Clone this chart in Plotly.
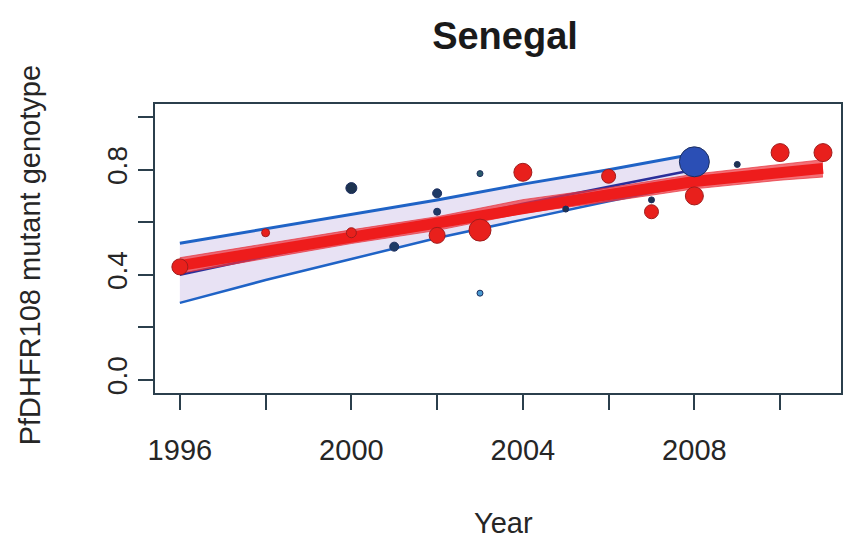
import plotly.graph_objects as go

# ---- data ----
blue_fit_years = [1996, 1998, 2000, 2002, 2004, 2006, 2008]
blue_upper = [0.52, 0.575, 0.63, 0.685, 0.745, 0.80, 0.86]
blue_mean = [0.40, 0.47, 0.535, 0.60, 0.67, 0.735, 0.80]
blue_lower = [0.293, 0.38, 0.46, 0.54, 0.61, 0.68, 0.745]

red_fit_years = [1996, 1998, 2000, 2002, 2004, 2006, 2008, 2010, 2011]
red_fit = [0.435, 0.49, 0.545, 0.595, 0.66, 0.705, 0.755, 0.79, 0.805]
red_upper = [0.465, 0.518, 0.571, 0.621, 0.686, 0.731, 0.783, 0.82, 0.838]
red_lower = [0.405, 0.462, 0.519, 0.569, 0.634, 0.679, 0.727, 0.76, 0.772]

red_pt_years = [1996, 1998, 2000, 2002, 2003, 2004, 2006, 2007, 2008, 2010, 2011]
red_pt_vals = [0.43, 0.56, 0.56, 0.55, 0.57, 0.79, 0.775, 0.64, 0.70, 0.865, 0.865]
red_pt_sizes = [16, 8, 10, 16, 22, 18, 14, 14, 18, 18, 18]

blue_pt_years = [2000, 2001, 2002, 2002, 2003, 2003, 2005, 2007, 2009, 2008]
blue_pt_vals = [0.73, 0.507, 0.71, 0.64, 0.785, 0.33, 0.65, 0.685, 0.82, 0.83]
blue_pt_sizes = [11, 9, 9, 7, 6, 6, 6, 6, 6, 30]
blue_pt_colors = ["#1d3350", "#1d3a66", "#1d3a66", "#1d3a66", "#2a5a6a", "#4a9ad0",
                  "#1d3350", "#1d3350", "#1d3350", "#2b4fb5"]

x_tickvals = [1996, 1998, 2000, 2002, 2004, 2006, 2008, 2010]
x_ticktext = ["1996", "", "2000", "", "2004", "", "2008", ""]
y_tickvals = [0.0, 0.2, 0.4, 0.6, 0.8, 1.0]
y_ticktext = ["0.0", "", "0.4", "", "0.8", ""]

FONT = "Liberation Sans, Arial, Helvetica, sans-serif"
FRAME = "#2b3f4c"
TXT = "#262626"

fig = go.Figure()

# blue confidence band
fig.add_trace(go.Scatter(x=blue_fit_years, y=blue_lower, mode="lines",
                         line=dict(color="#1f63c6", width=2.5), showlegend=False, hoverinfo="skip"))
fig.add_trace(go.Scatter(x=blue_fit_years, y=blue_upper, mode="lines", fill="tonexty",
                         fillcolor="rgba(205,190,230,0.45)",
                         line=dict(color="#1f63c6", width=3), showlegend=False, hoverinfo="skip"))
fig.add_trace(go.Scatter(x=blue_fit_years, y=blue_mean, mode="lines",
                         line=dict(color="#2a2f9a", width=2.5), showlegend=False, hoverinfo="skip"))

# red confidence band
fig.add_trace(go.Scatter(x=red_fit_years, y=red_lower, mode="lines",
                         line=dict(color="rgba(230,50,60,0.7)", width=1), showlegend=False, hoverinfo="skip"))
fig.add_trace(go.Scatter(x=red_fit_years, y=red_upper, mode="lines", fill="tonexty",
                         fillcolor="rgba(238,50,60,0.7)",
                         line=dict(color="rgba(230,50,60,0.7)", width=1), showlegend=False, hoverinfo="skip"))
fig.add_trace(go.Scatter(x=red_fit_years, y=red_fit, mode="lines",
                         line=dict(color="#ee1c1c", width=11), showlegend=False, hoverinfo="skip"))

# points
fig.add_trace(go.Scatter(x=red_pt_years, y=red_pt_vals, mode="markers",
                         marker=dict(size=red_pt_sizes, color="#e8201c", opacity=1,
                                     line=dict(color="#a01c1c", width=1)),
                         showlegend=False))
fig.add_trace(go.Scatter(x=blue_pt_years, y=blue_pt_vals, mode="markers",
                         marker=dict(size=blue_pt_sizes, color=blue_pt_colors, opacity=1,
                                     line=dict(color="#1d2f60", width=1)),
                         showlegend=False))

fig.update_layout(
    width=850, height=545,
    margin=dict(l=155, r=7, t=104, b=152),
    paper_bgcolor="white", plot_bgcolor="white",
    font=dict(family=FONT, color=TXT),
    title=dict(text="<b>Senegal</b>", x=505 / 850, xanchor="center",
               y=1 - 36 / 545, yanchor="middle", yref="container",
               font=dict(size=38, color="#1a1a1a", family=FONT)),
    xaxis=dict(range=[1995.42, 2011.42], tickvals=x_tickvals, ticktext=x_ticktext,
               ticks="outside", ticklen=15, tickwidth=2, tickcolor=FRAME,
               ticklabelstandoff=15,
               showline=True, linecolor=FRAME, linewidth=2, mirror=True,
               showgrid=False, zeroline=False, tickfont=dict(size=29, color=TXT)),
    yaxis=dict(range=[-0.05, 1.05], tickvals=y_tickvals, ticktext=y_ticktext,
               ticks="outside", ticklen=15, tickwidth=2, tickcolor=FRAME, tickangle=-90,
               showline=True, linecolor=FRAME, linewidth=2, mirror=True,
               showgrid=False, zeroline=False, tickfont=dict(size=28, color=TXT)),
    annotations=[
        dict(text="Year", xref="paper", yref="paper", x=(505 - 155) / 688,
             y=(393 - 523) / 289, xanchor="center", yanchor="middle",
             showarrow=False, font=dict(size=29, color=TXT, family=FONT)),
        dict(text="PfDHFR108 mutant genotype", xref="paper", yref="paper",
             x=(30 - 155) / 688, y=(393 - 255) / 289, textangle=-90,
             xanchor="center", yanchor="middle", showarrow=False,
             font=dict(size=29, color=TXT, family=FONT)),
    ],
)

fig.write_html("out.html")
